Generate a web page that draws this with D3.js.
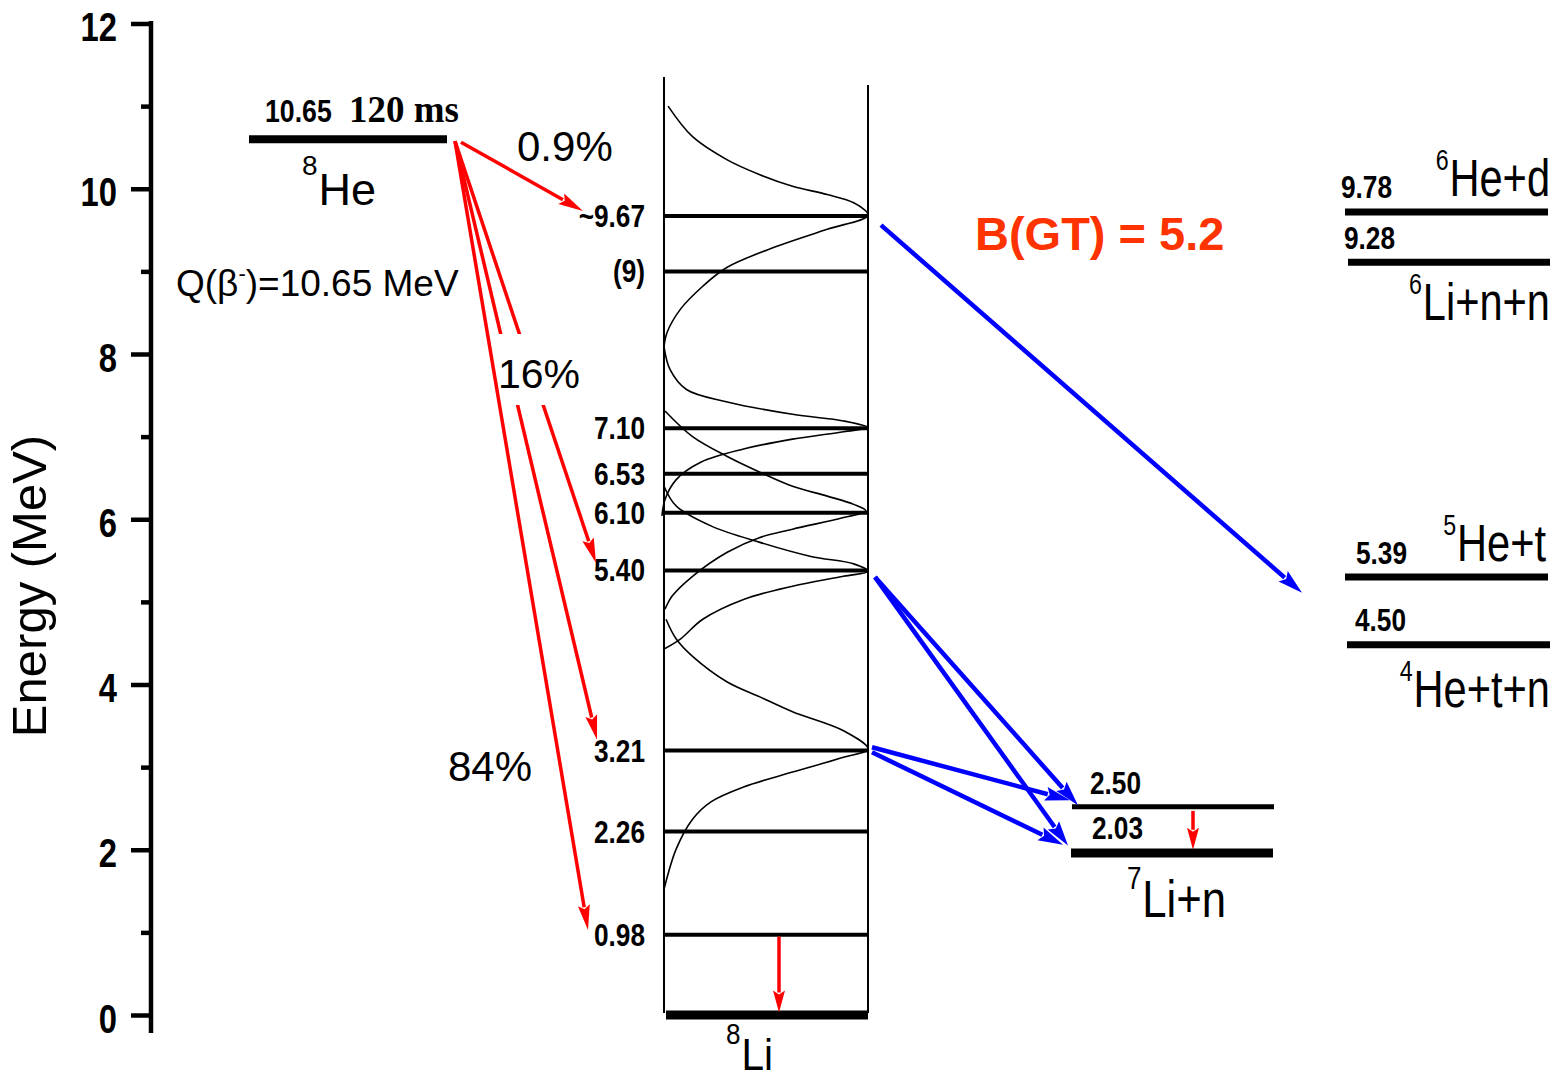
<!DOCTYPE html>
<html><head><meta charset="utf-8">
<script src="https://cdn.jsdelivr.net/npm/d3@7"></script>
<style>
html,body{margin:0;padding:0;background:#fff;}
svg{display:block;}
</style></head><body>
<svg id="chart" width="1556" height="1081"></svg>
<script>
// ---------------- DATA ----------------
const yMajorTicks = [0, 2, 4, 6, 8, 10, 12];
const yMinorTicks = [1, 3, 5, 7, 9, 11];
const axisTitle = "Energy (MeV)";

const parentName = ["8", "He"];
const parentEnergy = 10.60;          // drawn level of 8He
const parentLabel = "10.65";
const parentHalfLife = "120 ms";
const qValueText = ["Q(β", "-", ")=10.65 MeV"];

const li8Name = ["8", "Li"];
const li8LevelLabels   = ["~9.67", "(9)", "7.10", "6.53", "6.10", "5.40", "3.21", "2.26", "0.98"];
const li8LevelEnergies = [9.67, 9.00, 7.10, 6.55, 6.08, 5.38, 3.20, 2.22, 0.97];
const li8Ground = 0;

// resonance line shapes in 8Li: [energy (MeV), relative amplitude 0..1]
const shape967 = [[11.00,0.02],[10.63,0.14],[10.35,0.31],[10.17,0.47],[10.03,0.63],[9.93,0.80],[9.83,0.93],[9.68,1.0],[9.51,0.80],[9.30,0.55],[9.05,0.31],[8.82,0.19],[8.54,0.08],[8.26,0.015],[8.09,0]];
const shape710 = [[8.09,0],[7.81,0.03],[7.57,0.11],[7.42,0.31],[7.27,0.63],[7.19,0.88],[7.11,1.0],[7.06,0.88],[6.97,0.63],[6.85,0.39],[6.69,0.18],[6.48,0.06],[6.24,0.005],[6.04,-0.01]];
const shape610 = [[7.31,0.005],[7.00,0.14],[6.76,0.31],[6.57,0.47],[6.40,0.63],[6.28,0.80],[6.18,0.93],[6.10,0.99],[6.02,0.88],[5.88,0.63],[5.78,0.47],[5.60,0.31],[5.31,0.14],[5.07,0.04],[4.91,0.005]];
const shape540 = [[6.40,0],[6.16,0.06],[5.92,0.23],[5.72,0.47],[5.55,0.72],[5.46,0.93],[5.37,1.0],[5.31,0.88],[5.19,0.63],[5.03,0.39],[4.79,0.19],[4.55,0.08],[4.43,0]];
const shape321 = [[4.79,0.01],[4.55,0.06],[4.34,0.14],[4.03,0.31],[3.85,0.47],[3.67,0.63],[3.44,0.88],[3.22,1.0],[3.12,0.88],[2.94,0.63],[2.76,0.39],[2.58,0.23],[2.37,0.14],[2.01,0.06],[1.52,0]];
const lineShapes = [shape967, shape710, shape610, shape540, shape321];

// beta branches from 8He: target energy (tip) and branch labels
const betaTargets   = ["~9.67", "5.40", "3.21", "0.98"];
const betaTipEnergy = [9.73, 5.47, 3.33, 1.03];
const branchLabels  = ["0.9%", "16%", "84%"];

// final channels
const thrLabels   = ["9.78", "9.28", "5.39", "4.50", "2.50", "2.03"];
const thrEnergies = [9.72, 9.11, 5.30, 4.48, 2.52, 1.96];   // drawn positions
const channelNames = [["6","He+d"], ["6","Li+n+n"], ["5","He+t"], ["4","He+t+n"], ["7","Li+n"]];

// particle-decay transitions (blue): start energy, end energy
const decayFromE = [9.56, 5.30, 5.30, 3.24, 3.18];
const decayToE   = [5.11, 2.54, 2.05, 2.60, 2.06];

// gamma transitions (red vertical)
const gammaLi8  = [0.90, 0.03];
const gammaLi7  = [2.47, 2.00];

const bgtText = "B(GT) = 5.2";

// ---------------- DRAWING ----------------
const FONT = '"Liberation Sans", Arial, Helvetica, sans-serif';
const SERIF = '"Liberation Serif", "Times New Roman", serif';
const svg = d3.select("#chart");
const y = d3.scaleLinear().domain([0, 12]).range([1015, 23.5]);
const amp = d3.scaleLinear().domain([0, 1]).range([664, 868]);

// axis
const axisX = 151;
svg.append("line").attr("x1", axisX).attr("x2", axisX).attr("y1", 21).attr("y2", 1033)
  .attr("stroke", "#000").attr("stroke-width", 4.5);
const gMaj = svg.append("g").attr("transform", `translate(${axisX},0)`)
  .call(d3.axisLeft(y).tickValues(yMajorTicks).tickSize(20).tickFormat(d3.format("d")));
gMaj.select(".domain").remove();
gMaj.selectAll(".tick line").attr("stroke", "#000").attr("stroke-width", 4.5);
gMaj.selectAll(".tick text").attr("x", 0).attr("dy", 0)
  .attr("transform", "translate(-34,17) scale(0.82,1)")
  .attr("font-family", FONT).attr("font-size", 40).attr("font-weight", "bold")
  .attr("fill", "#000").attr("text-anchor", "end");
const gMin = svg.append("g").attr("transform", `translate(${axisX},0)`)
  .call(d3.axisLeft(y).tickValues(yMinorTicks).tickSize(10).tickFormat(""));
gMin.select(".domain").remove();
gMin.selectAll(".tick line").attr("stroke", "#000").attr("stroke-width", 4.5);

svg.append("text").attr("transform", `translate(46,${586}) rotate(-90)`)
  .attr("text-anchor", "middle").attr("font-family", FONT).attr("font-size", 49)
  .text(axisTitle);

// helpers
function hbar(x1, x2, e, w) {
  svg.append("line").attr("x1", x1).attr("x2", x2).attr("y1", y(e)).attr("y2", y(e))
    .attr("stroke", "#000").attr("stroke-width", w);
}
function ntext(x, yy, str, size, sx, anchor, weight, fill) {
  return svg.append("text").attr("transform", `translate(${x},${yy}) scale(${sx},1)`)
    .attr("font-family", FONT).attr("font-size", size).attr("font-weight", weight || "normal")
    .attr("text-anchor", anchor || "start").attr("fill", fill || "#000").text(str);
}
function nuclide(x, yy, parts, supSize, size, sx, anchor, lift) {
  const t = svg.append("text").attr("transform", `translate(${x},${yy}) scale(${sx},1)`)
    .attr("font-family", FONT).attr("text-anchor", anchor).attr("fill", "#000");
  t.append("tspan").attr("font-size", supSize).attr("dy", -lift).text(parts[0]);
  t.append("tspan").attr("font-size", size).attr("dy", lift).attr("dx", 1).text(parts[1]);
  return t;
}
function arrow(x1, y1, x2, y2, color, w, L, hw) {
  const a = Math.atan2(y2 - y1, x2 - x1), c = Math.cos(a), s = Math.sin(a);
  const bx = x2 - L * c, by = y2 - L * s;
  svg.append("line").attr("x1", x1).attr("y1", y1).attr("x2", bx + 2 * c).attr("y2", by + 2 * s)
    .attr("stroke", color).attr("stroke-width", w);
  svg.append("path").attr("d", `M${x2},${y2}L${bx - hw * s},${by + hw * c}L${bx + 4 * c},${by + 4 * s}L${bx + hw * s},${by - hw * c}Z`)
    .attr("fill", color);
}

// 8He level
hbar(249, 447, parentEnergy, 8);
ntext(265, 122, parentLabel, 31, 0.86, "start", "bold");
svg.append("text").attr("x", 349).attr("y", 122).attr("font-family", SERIF).attr("font-size", 37)
  .attr("font-weight", "bold").text(parentHalfLife);
nuclide(302, 205, parentName, 28, 45, 1, "start", 30);
{
  const t = svg.append("text").attr("x", 176).attr("y", 296).attr("font-family", FONT).attr("font-size", 37);
  t.append("tspan").text(qValueText[0]);
  t.append("tspan").attr("font-size", 22).attr("dy", -15).text(qValueText[1]);
  t.append("tspan").attr("dy", 15).text(qValueText[2]);
}

// 8Li box
svg.append("line").attr("x1", 664).attr("x2", 664).attr("y1", 77).attr("y2", 1013).attr("stroke", "#000").attr("stroke-width", 2);
svg.append("line").attr("x1", 868).attr("x2", 868).attr("y1", 85).attr("y2", 1013).attr("stroke", "#000").attr("stroke-width", 2);
li8LevelEnergies.forEach((e, i) => {
  hbar(664, 868, e, 4);
  ntext(645, y(e) + 11, li8LevelLabels[i], 32, 0.82, "end", "bold");
});
hbar(666, 868, li8Ground, 9);
const shapeLine = d3.line().x(d => amp(d[1])).y(d => y(d[0])).curve(d3.curveCatmullRom.alpha(0.5));
lineShapes.forEach(s => {
  svg.append("path").attr("d", shapeLine(s)).attr("fill", "none").attr("stroke", "#000").attr("stroke-width", 1.6);
});
nuclide(726, 1070, li8Name, 29, 45, 0.9, "start", 26);

// beta arrows (red)
const RED = "#ff0000";
const startX = 455, startY = y(parentEnergy) + 2;
const tipX = { "~9.67": 583, "5.40": 596, "3.21": 597, "0.98": 588 };
const tipOf = name => [tipX[name], y(betaTipEnergy[betaTargets.indexOf(name)])];
{
  const [x, yy] = tipOf("~9.67");
  arrow(startX + 6, startY + 1, x, yy, RED, 3.5, 25, 6);
}
["5.40", "3.21"].forEach(n => { const [x, yy] = tipOf(n); arrow(startX, startY, x, yy, RED, 3.5, 25, 6); });
// white box behind 16%
svg.append("rect").attr("x", 497).attr("y", 334).attr("width", 95).attr("height", 71).attr("fill", "#fff");
{ const [x, yy] = tipOf("0.98"); arrow(startX, startY, x, yy, RED, 3.5, 25, 6); }
svg.append("text").attr("x", 517).attr("y", 161).attr("font-family", FONT).attr("font-size", 42).text(branchLabels[0]);
svg.append("text").attr("x", 498).attr("y", 388).attr("font-family", FONT).attr("font-size", 41).text(branchLabels[1]);
svg.append("text").attr("x", 448).attr("y", 781).attr("font-family", FONT).attr("font-size", 42).text(branchLabels[2]);

// gamma arrows
arrow(779, y(gammaLi8[0]) - 4, 779, y(gammaLi8[1]), RED, 3.5, 22, 6);
arrow(1193, y(gammaLi7[0]), 1193, y(gammaLi7[1]), RED, 3.5, 22, 6);

// thresholds / final states
const thrX = [[1345, 1548], [1348, 1550], [1345, 1548], [1347, 1550], [1072, 1274], [1071, 1273]];
const thrW = [7, 7, 7, 7, 5, 9];
const thrLabelX = [1341, 1344, 1356, 1355, 1090, 1092];
thrEnergies.forEach((e, i) => {
  hbar(thrX[i][0], thrX[i][1], e, thrW[i]);
  ntext(thrLabelX[i], y(e) - thrW[i] / 2 - 10, thrLabels[i], 32, 0.82, "start", "bold");
});
nuclide(1550, 196, channelNames[0], 29, 52, 0.8, "end", 26);
nuclide(1550, 320, channelNames[1], 29, 52, 0.8, "end", 26);
nuclide(1546, 561, channelNames[2], 29, 52, 0.8, "end", 26);
nuclide(1550, 707, channelNames[3], 29, 52, 0.8, "end", 26);
nuclide(1127, 917, channelNames[4], 31, 52, 0.84, "start", 28);

// blue decay arrows
const BLUE = "#0000ff";
const decayX = [[881, 1302], [875, 1078], [875, 1068], [872, 1070], [872, 1063]];
decayFromE.forEach((e, i) => {
  arrow(decayX[i][0], y(e), decayX[i][1], y(decayToE[i]), BLUE, 4.5, 25, 7);
});

// B(GT)
svg.append("text").attr("x", 975).attr("y", 250).attr("font-family", FONT).attr("font-size", 47)
  .attr("font-weight", "bold").attr("fill", "#ff3300").text(bgtText);
</script>
</body></html>
